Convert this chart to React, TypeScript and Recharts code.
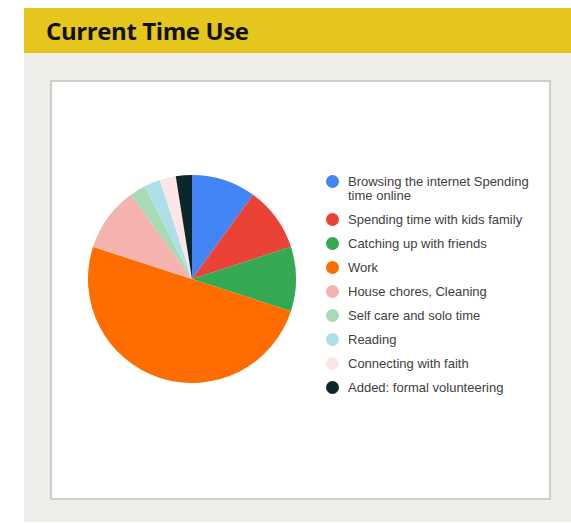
import { PieChart, Pie, Cell, Legend } from "recharts";

const categories = [
  "Browsing the internet Spending time online",
  "Spending time with kids family",
  "Catching up with friends",
  "Work",
  "House chores, Cleaning",
  "Self care and solo time",
  "Reading",
  "Connecting with faith",
  "Added: formal volunteering",
];

const hours = [8, 8, 8, 40, 8, 2, 2, 2, 2];

const colors = [
  "#4285f4",
  "#ea4335",
  "#34a853",
  "#ff6d01",
  "#f4b3ae",
  "#a8dab5",
  "#ade0e8",
  "#fce5e6",
  "#0c2729",
];

const data = categories.map((name, i) => ({ name, value: hours[i] }));

const LegendList = () => (
  <div style={{ fontFamily: "'Liberation Sans', Arial, sans-serif", fontSize: 13, color: "#404040" }}>
    {categories.map((name, i) => (
      <div
        key={name}
        style={{ display: "flex", alignItems: "flex-start", marginBottom: 10.5, lineHeight: "13.5px" }}
      >
        <span
          style={{
            width: 13,
            height: 13,
            borderRadius: 7,
            background: colors[i],
            flex: "none",
            marginRight: 9,
          }}
        />
        <span style={{ width: 195 }}>{name}</span>
      </div>
    ))}
  </div>
);

const App = () => {
  return (
    <div style={{ position: "relative", width: 571, height: 523 }}>
      <style>{`body{margin:0;overflow:hidden}`}</style>
      <div
        style={{
          position: "absolute",
          left: 24,
          top: 8,
          width: 547,
          height: 45,
          background: "#e5c61d",
        }}
      >
        <div
          style={{
            position: "absolute",
            left: 22,
            top: 6,
            fontFamily: "'Open Sans', sans-serif",
            fontWeight: 700,
            fontSize: 24,
            color: "#111",
            letterSpacing: -0.4,
          }}
        >
          Current Time Use
        </div>
      </div>
      <div
        style={{
          position: "absolute",
          left: 24,
          top: 53,
          width: 547,
          height: 469,
          background: "#efeeea",
        }}
      />
      <div
        style={{
          position: "absolute",
          left: 50,
          top: 80,
          width: 497,
          height: 416,
          background: "#fff",
          border: "2px solid #cfcfc6",
        }}
      >
        <PieChart width={497} height={416}>
          <Pie
            data={data}
            dataKey="value"
            nameKey="name"
            cx={135}
            cy={192}
            outerRadius={104}
            startAngle={90}
            endAngle={-270}
            stroke="none"
            isAnimationActive={false}
          >
            {data.map((d, i) => (
              <Cell key={d.name} fill={colors[i]} />
            ))}
          </Pie>
          <Legend
            layout="vertical"
            align="right"
            verticalAlign="top"
            wrapperStyle={{ left: 274, top: 93, width: 220 }}
            content={<LegendList />}
          />
        </PieChart>
      </div>
    </div>
  );
};

export default App;
